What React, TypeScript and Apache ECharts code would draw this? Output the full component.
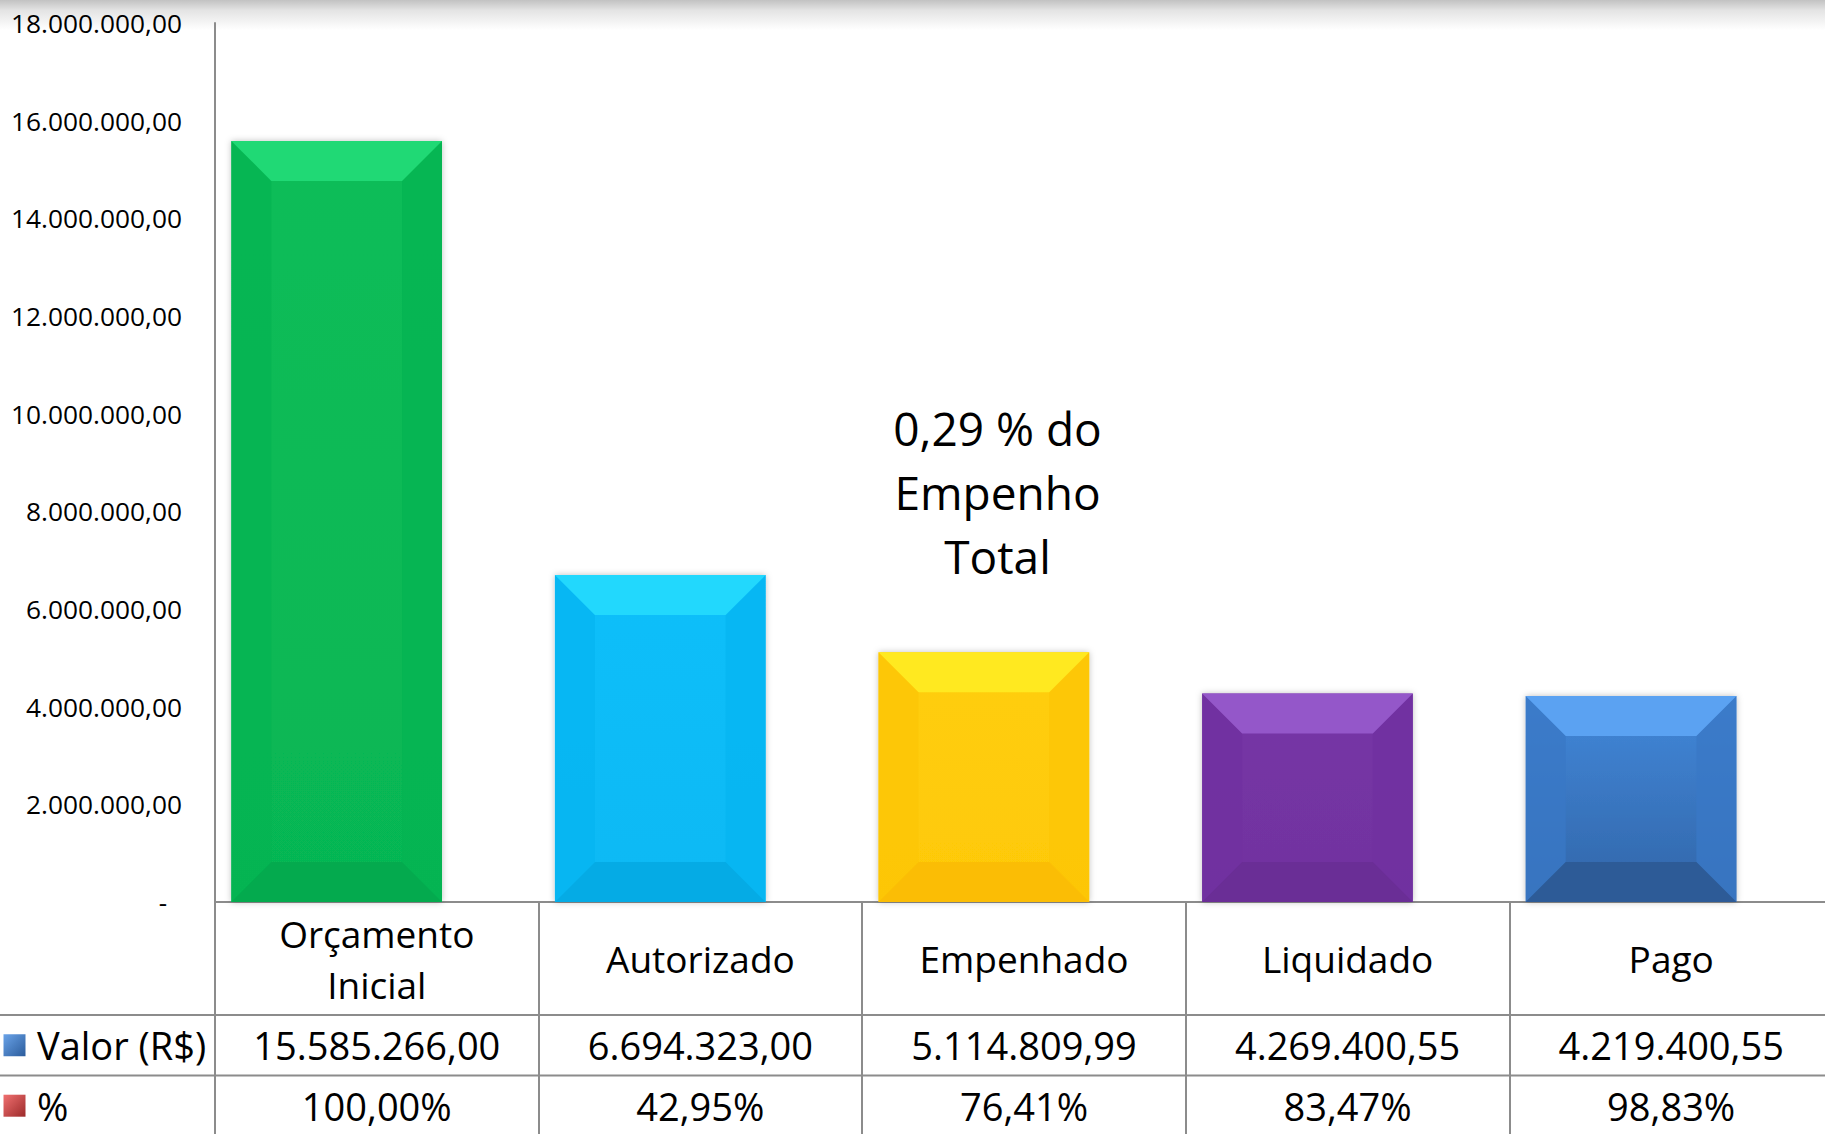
import React, { useEffect, useRef } from "react";
import * as echarts from "echarts";

const categories = ["Orçamento\nInicial", "Autorizado", "Empenhado", "Liquidado", "Pago"];
const valores = [15585266.0, 6694323.0, 5114809.99, 4269400.55, 4219400.55];
const percentuais = [100.0, 42.95, 76.41, 83.47, 98.83];
const yTicks = { min: 0, max: 18000000, interval: 2000000 };
const rowNames = ["Valor (R$)", "%"];
const annotation = "0,29 % do\nEmpenho\nTotal";

const FONT = "'Open Sans', 'Noto Sans', sans-serif";
const LINE = "#8c8c8c";

const palette = [
  { face: ["#0bbd59", "#06b653"], top: "#20d975", side: "#05b452", bottom: "#04aa4e" },
  { face: ["#0bbffa", "#07b9f4"], top: "#22d8fd", side: "#06b5f1", bottom: "#05abe5" },
  { face: ["#ffce0a", "#fec906"], top: "#ffe920", side: "#fdc606", bottom: "#fbbd05" },
  { face: ["#7636a6", "#71329f"], top: "#9457c9", side: "#7031a0", bottom: "#6a2e96" },
  { face: ["#4288da", "#3165a8"], top: "#5ba2f2", side: "#3a78c6", bottom: "#2d5b97" },
];

function fmtNum(n: number): string {
  const fixed = Math.abs(n).toFixed(2);
  const [ip, dp] = fixed.split(".");
  const withDots = ip.replace(/\B(?=(\d{3})+(?!\d))/g, ".");
  return (n < 0 ? "-" : "") + withDots + "," + dp;
}
function fmtPct(n: number): string {
  return n.toFixed(2).replace(".", ",") + "%";
}

const CW = 1833;
const CH = 1134;

export default function App() {
  const ref = useRef<HTMLDivElement>(null);
  useEffect(() => {
    if (!ref.current) return;
    const chart = echarts.init(ref.current, null, { renderer: "svg" });
    const gridLeft = 215;
    const gridTop = 23;
    const gridBottom = 232;
    const axisY = CH - gridBottom;
    const row1Bottom = 1015;
    const row2Bottom = 1075.5;
    const row2Center = (row1Bottom + row2Bottom) / 2;
    const row3Center = 1105.7;

    const bevel = 40;

    const option: any = {
      animation: false,
      backgroundColor: "#ffffff",
      textStyle: { fontFamily: FONT },
      grid: { left: gridLeft, top: gridTop, right: 0, bottom: gridBottom, containLabel: false },
      xAxis: [
        {
          type: "category",
          data: categories,
          boundaryGap: true,
          axisLine: { show: true, lineStyle: { color: LINE, width: 2 } },
          axisTick: { show: true, length: CH - axisY, interval: 0, lineStyle: { color: LINE, width: 2 } },
          axisLabel: {
            interval: 0,
            margin: (row1Bottom - axisY) / 2,
            verticalAlign: "middle",
            color: "#000",
            fontFamily: FONT,
            fontSize: 37,
            lineHeight: 51,
          },
        },
        {
          type: "category",
          data: valores.map(fmtNum),
          position: "bottom",
          axisLine: { show: false },
          axisTick: { show: false },
          axisLabel: {
            interval: 0,
            margin: row2Center - axisY,
            verticalAlign: "middle",
            color: "#000",
            fontFamily: FONT,
            fontSize: 38,
          },
        },
        {
          type: "category",
          data: percentuais.map(fmtPct),
          position: "bottom",
          axisLine: { show: false },
          axisTick: { show: false },
          axisLabel: {
            interval: 0,
            margin: row3Center - axisY,
            verticalAlign: "middle",
            color: "#000",
            fontFamily: FONT,
            fontSize: 38,
          },
        },
      ],
      yAxis: {
        type: "value",
        min: yTicks.min,
        max: yTicks.max,
        interval: yTicks.interval,
        splitLine: { show: false },
        axisTick: { show: false },
        axisLine: { show: true, lineStyle: { color: LINE, width: 2 } },
        axisLabel: {
          margin: 33,
          color: "#000",
          fontFamily: FONT,
          fontSize: 26.3,
          formatter: (v: number) => (v === 0 ? "{d|-}" : fmtNum(v)),
          rich: { d: { fontFamily: FONT, fontSize: 26, color: "#000", padding: [0, 15, 0, 0] } },
        },
      },
      graphic: [
        {
          type: "rect",
          left: 0,
          top: 0,
          z: -10,
          shape: { width: CW, height: 30 },
          style: {
            fill: new echarts.graphic.LinearGradient(0, 0, 0, 1, [
              { offset: 0, color: "#c2c2c2" },
              { offset: 0.35, color: "#e4e4e4" },
              { offset: 1, color: "#ffffff" },
            ]),
          },
        },
        {
          type: "line",
          shape: { x1: 0, y1: row1Bottom, x2: CW, y2: row1Bottom },
          style: { stroke: LINE, lineWidth: 2 },
        },
        {
          type: "line",
          shape: { x1: 0, y1: row2Bottom, x2: CW, y2: row2Bottom },
          style: { stroke: LINE, lineWidth: 2 },
        },
        {
          type: "rect",
          shape: { x: 3.5, y: row2Center - 11, width: 22, height: 22 },
          style: {
            fill: new echarts.graphic.LinearGradient(0, 0, 1, 1, [
              { offset: 0, color: "#6aa3e8" },
              { offset: 1, color: "#2b5c9c" },
            ]),
          },
        },
        {
          type: "rect",
          shape: { x: 3.5, y: row3Center - 11, width: 22, height: 22 },
          style: {
            fill: new echarts.graphic.LinearGradient(0, 0, 1, 1, [
              { offset: 0, color: "#f07070" },
              { offset: 1, color: "#9c2a2a" },
            ]),
          },
        },
        {
          type: "text",
          x: 37,
          y: row2Center,
          style: { text: rowNames[0], fontFamily: FONT, fontSize: 38, fill: "#000", textVerticalAlign: "middle", textAlign: "left" },
        },
        {
          type: "text",
          x: 37,
          y: row3Center,
          style: { text: rowNames[1], fontFamily: FONT, fontSize: 38, fill: "#000", textVerticalAlign: "middle", textAlign: "left" },
        },
        {
          type: "text",
          x: 997.5,
          y: 396.3,
          style: {
            text: annotation,
            fontFamily: FONT,
            fontSize: 46,
            lineHeight: 64,
            fill: "#000",
            textAlign: "center",
            textVerticalAlign: "top",
          },
        },
      ],
      series: [
        {
          type: "custom",
          xAxisIndex: 0,
          yAxisIndex: 0,
          data: valores.map((v, i) => [i, v]),
          encode: { x: 0, y: 1 },
          renderItem: (params: any, api: any) => {
            const i = api.value(0);
            const v = api.value(1);
            const topPt = api.coord([i, v]);
            const basePt = api.coord([i, 0]);
            const bandW = api.size([1, 0])[0];
            const bw = bandW * 0.651;
            const cx = topPt[0] - bandW * 0.124;
            const x0 = cx - bw / 2;
            const x1 = cx + bw / 2;
            const y0 = topPt[1];
            const y1 = basePt[1];
            const b = Math.min(bevel, (y1 - y0) / 2);
            const c = palette[i % palette.length];
            const faceFill = new echarts.graphic.LinearGradient(0, 0, 0, 1, [
              { offset: 0, color: c.face[0] },
              { offset: 1, color: c.face[1] },
            ]);
            return {
              type: "group",
              children: [
                {
                  type: "rect",
                  shape: { x: x0, y: y0, width: bw, height: y1 - y0 },
                  style: { fill: faceFill, shadowBlur: 6, shadowColor: "rgba(0,0,0,0.25)" },
                },
                {
                  type: "polygon",
                  shape: { points: [[x0, y0], [x0 + b, y0 + b], [x0 + b, y1 - b], [x0, y1]] },
                  style: { fill: c.side, opacity: 0.8 },
                },
                {
                  type: "polygon",
                  shape: { points: [[x1, y0], [x1, y1], [x1 - b, y1 - b], [x1 - b, y0 + b]] },
                  style: { fill: c.side, opacity: 0.8 },
                },
                {
                  type: "polygon",
                  shape: { points: [[x0, y0], [x1, y0], [x1 - b, y0 + b], [x0 + b, y0 + b]] },
                  style: { fill: c.top },
                },
                {
                  type: "polygon",
                  shape: { points: [[x0, y1], [x1, y1], [x1 - b, y1 - b], [x0 + b, y1 - b]] },
                  style: { fill: c.bottom },
                },
              ],
            };
          },
        },
      ],
    };
    chart.setOption(option);
    return () => chart.dispose();
  }, []);
  return (
    <div
      ref={ref}
      style={{ position: "fixed", left: 0, top: 0, width: CW, height: CH, background: "#fff" }}
    />
  );
}
